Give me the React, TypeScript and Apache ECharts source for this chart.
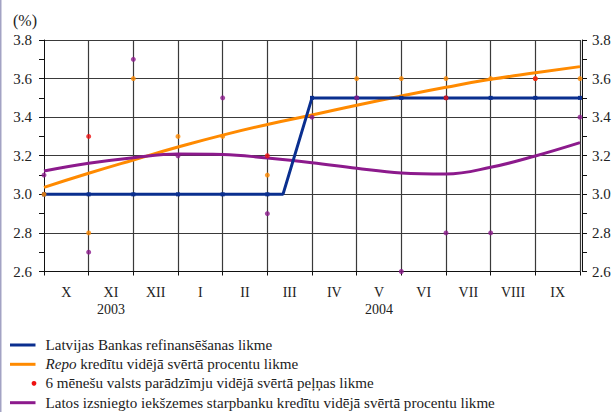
import React, { useEffect, useRef } from "react";
import * as echarts from "echarts";

const months = ["X", "XI", "XII", "I", "II", "III", "IV", "V", "VI", "VII", "VIII", "IX"];
const yearUnder: Record<string, string> = { XI: "2003", V: "2004" };
const yTicks = [2.6, 3.8, 0.2];

// month-end positions 0..12
const refiX = [0, 1, 2, 3, 4, 5, 5.35, 6, 7, 8, 9, 10, 11, 12];
const refiRate = [3.0, 3.0, 3.0, 3.0, 3.0, 3.0, 3.0, 3.5, 3.5, 3.5, 3.5, 3.5, 3.5, 3.5];
const repoTrend = [3.036, 3.109, 3.178, 3.245, 3.307, 3.362, 3.411, 3.462, 3.51, 3.555, 3.596, 3.63, 3.662];
const repoPoints = [3.0, 2.8, 3.6, 3.3, 3.3, 3.1, null, 3.6, 3.6, 3.6, 3.6, 3.6, 3.6];
const billPoints = [null, 3.3, null, null, null, 3.2, null, null, null, 3.5, null, 3.6, null];
const interbankTrend = [3.121, 3.161, 3.19, 3.209, 3.207, 3.188, 3.164, 3.135, 3.111, 3.105, 3.14, 3.199, 3.268];
const interbankPoints = [3.1, 2.7, 3.7, 3.2, 3.5, 2.9, 3.4, 3.5, 2.6, 2.8, 2.8, null, 3.4];

const legendNames = [
  "Latvijas Bankas refinansēšanas likme",
  "{i|Repo} kredītu vidējā svērtā procentu likme",
  "6 mēnešu valsts parādzīmju vidējā svērtā peļņas likme",
  "Latos izsniegto iekšzemes starpbanku kredītu vidējā svērtā procentu likme",
];

const BLUE = "#0a2f8f";
const ORANGE = "#ff8a00";
const RED = "#ee1111";
const PURPLE = "#8c1a8c";
const FONT = "Liberation Serif";

const pts = (arr: (number | null)[]) =>
  arr.map((v, i) => (v == null ? null : [i, v])).filter((d) => d !== null);

export default function App() {
  const ref = useRef<HTMLDivElement>(null);
  useEffect(() => {
    const chart = echarts.init(ref.current!, undefined, { renderer: "svg" });
    const yAxisBase = {
      type: "value",
      min: yTicks[0],
      max: yTicks[1],
      interval: yTicks[2],
      offset: 2,
      axisLine: { show: true, lineStyle: { color: "#111", width: 1 } },
      axisTick: { show: true, length: 5, lineStyle: { color: "#111" } },
      minorTick: { show: true, splitNumber: 2, length: 5, lineStyle: { color: "#111" } },
      axisLabel: {
        color: "#222",
        fontFamily: FONT,
        fontSize: 15,
        margin: 10,
        formatter: (v: number) => v.toFixed(1),
      },
    };
    const rowY = [345, 364.3, 383.3, 402.7];
    const legendColors = [BLUE, ORANGE, RED, PURPLE];
    const graphics: any[] = [
      { type: "rect", shape: { x: 0, y: 0, width: 1.5, height: 412 }, style: { fill: "#a3a3c4" } },
    ];
    const titles: any[] = [
      {
        text: "(%)",
        left: 8,
        top: 7,
        textStyle: { fontFamily: FONT, fontSize: 16, fontWeight: "normal", color: "#222" },
      },
    ];
    rowY.forEach((y, i) => {
      if (i === 2) {
        graphics.push({ type: "circle", shape: { cx: 34, cy: y, r: 2.4 }, style: { fill: RED } });
      } else {
        graphics.push({
          type: "rect",
          shape: { x: 10, y: y - 1.5, width: 25.5, height: 3 },
          style: { fill: legendColors[i] },
        });
      }
      titles.push({
        text: legendNames[i],
        left: 45.5,
        top: y - 8.5,
        padding: 0,
        textStyle: {
          fontFamily: FONT,
          fontSize: 15.1,
          fontWeight: "normal",
          color: "#222",
          lineHeight: 17,
          rich: {
            i: { fontFamily: FONT, fontSize: 15.1, fontStyle: "italic", color: "#222", lineHeight: 17 },
          },
        },
      });
    });

    chart.setOption({
      animation: false,
      backgroundColor: "#fff",
      title: titles,
      grid: { left: 44, right: 35, top: 40, bottom: 140.5 },
      xAxis: [
        {
          type: "category",
          data: months,
          boundaryGap: true,
          axisLine: { show: true, lineStyle: { color: "#111" } },
          axisTick: { show: true, length: 4, lineStyle: { color: "#111" } },
          splitLine: {
            show: true,
            interval: (i: number) => i !== 0,
            lineStyle: { color: "#3a3a3a", width: 1.2 },
          },
          axisLabel: {
            interval: 0,
            margin: 12,
            color: "#222",
            fontFamily: FONT,
            fontSize: 14,
            lineHeight: 17,
            formatter: (v: string) => (yearUnder[v] ? `${v}\n${yearUnder[v]}` : v),
          },
        },
        { type: "value", min: 0, max: 12, show: false },
      ],
      yAxis: [
        { ...yAxisBase, position: "left", splitLine: { show: true, lineStyle: { color: "#3a3a3a", width: 1.2 } } },
        { ...yAxisBase, position: "right", splitLine: { show: false } },
      ],
      series: [
        {
          type: "line",
          xAxisIndex: 1,
          data: repoTrend.map((v, i) => [i, v]),
          smooth: true,
          showSymbol: false,
          lineStyle: { color: ORANGE, width: 3 },
          z: 2,
        },
        {
          type: "line",
          xAxisIndex: 1,
          data: interbankTrend.map((v, i) => [i, v]),
          smooth: 0.4,
          showSymbol: false,
          lineStyle: { color: PURPLE, width: 3 },
          z: 2,
        },
        {
          type: "line",
          xAxisIndex: 1,
          data: refiX.map((x, i) => ({
            value: [x, refiRate[i]],
            symbol: Number.isInteger(x) ? "rect" : "none",
          })),
          symbolSize: 4,
          showAllSymbol: true,
          itemStyle: { color: BLUE },
          lineStyle: { color: BLUE, width: 3 },
          z: 3,
        },
        {
          type: "scatter",
          xAxisIndex: 1,
          data: pts(repoPoints),
          symbolSize: 5,
          itemStyle: { color: ORANGE },
          z: 4,
        },
        {
          type: "scatter",
          xAxisIndex: 1,
          data: pts(interbankPoints),
          symbolSize: 5,
          itemStyle: { color: PURPLE },
          z: 4,
        },
        {
          type: "scatter",
          xAxisIndex: 1,
          data: pts(billPoints),
          symbolSize: 5,
          itemStyle: { color: RED },
          z: 5,
        },
      ],
      graphic: graphics,
    });
    return () => chart.dispose();
  }, []);
  return (
    <div
      ref={ref}
      style={{ position: "absolute", left: 0, top: 0, width: 615, height: 412 }}
    />
  );
}
